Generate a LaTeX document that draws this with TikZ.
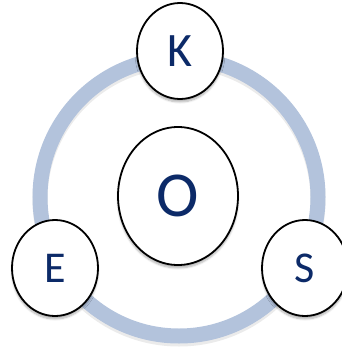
\documentclass[tikz,border=0pt]{standalone}
\usepackage{fontspec}
\setmainfont{Carlito}
\usetikzlibrary{shapes.geometric,shadows.blur}
\definecolor{ringblue}{HTML}{B3C3DC}
\definecolor{letterblue}{HTML}{0C2A68}
\tikzset{
  bubble/.style={ellipse, draw=black, line width=1.8pt, fill=white,
    inner sep=0pt, text=letterblue,
    blur shadow={shadow xshift=0pt, shadow yshift=-3pt, shadow blur steps=6, shadow opacity=30}},
  ringline/.style={draw=ringblue, line width=15pt}
}
\begin{document}
\begin{tikzpicture}[x=1pt,y=-1pt]
  \useasboundingbox (0,0) rectangle (342,353);
  % soft shade under the ring, then the ring itself
  \draw[line width=15pt, black, opacity=0.08] (179,200) circle[radius=139];
  \draw[ringline] (179,197) circle[radius=139];
  % the four bubbles
  \node[bubble, minimum width=120pt, minimum height=138pt, font=\fontsize{64}{64}\selectfont] (O) at (178,196) {O};
  \node[bubble, minimum width=86pt, minimum height=96pt, font=\fontsize{48}{48}\selectfont] (K) at (180,51) {K};
  \node[bubble, minimum width=86pt, minimum height=96pt, font=\fontsize{44}{44}\selectfont] (E) at (55,268) {E};
  \node[bubble, minimum width=86pt, minimum height=96pt, font=\fontsize{44}{44}\selectfont] (S) at (305,268) {S};
\end{tikzpicture}
\end{document}
